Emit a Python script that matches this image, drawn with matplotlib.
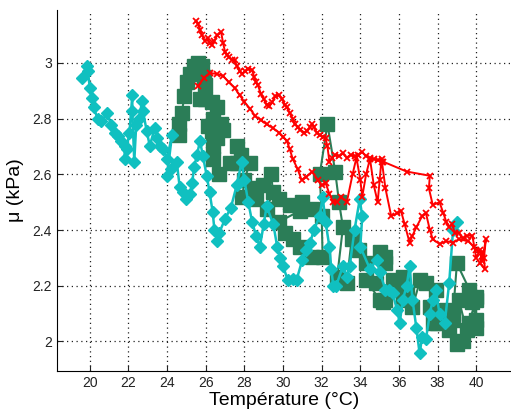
import matplotlib
matplotlib.use('Agg')
import matplotlib.pyplot as plt
import numpy as np

plt.rcParams['font.family'] = ['Liberation Sans', 'DejaVu Sans']

# red curve: upper branch then lower branch back
red_x = [25.5, 25.6, 25.7, 25.8, 25.95, 26.1, 26.2, 26.3, 26.45, 26.6, 26.8, 26.9, 27.0, 27.1, 27.2,
         27.35, 27.5, 27.6, 27.75, 27.9, 28.05, 28.2, 28.4, 28.5, 28.6, 28.7, 28.85, 29.0, 29.15, 29.3,
         29.45, 29.6, 29.8, 29.95, 30.1, 30.2, 30.35, 30.5, 30.6, 30.75, 30.9, 31.1, 31.25, 31.4, 31.5,
         31.6, 31.75, 31.9, 32.05, 32.2, 32.3, 32.4, 32.55, 32.7, 32.9, 33.1, 33.3, 33.5, 33.7, 33.9,
         34.1, 34.3, 34.5, 34.7, 34.9, 35.1, 35.2, 36.4, 37.6, 37.55, 37.75, 38.1, 38.3, 38.45, 38.6,
         38.75, 38.9, 39.1, 39.3, 39.5, 39.8, 39.9, 40.0, 40.2, 40.3, 40.5, 40.4, 40.45, 40.2, 40.3,
         40.0, 39.6, 39.1, 38.8, 38.45, 38.1, 37.75, 37.6, 37.4, 37.2, 36.9, 36.7, 36.55, 36.3, 36.1,
         35.9, 35.6, 35.3, 35.1, 35.0, 34.9, 34.7, 34.5, 34.3, 34.1, 34.0, 33.8, 33.6, 33.3, 33.0,
         32.8, 32.6, 32.4, 32.2, 32.0, 31.8, 31.5, 31.2, 30.96, 30.75, 30.5, 30.35, 30.2, 30.0, 29.8,
         29.5, 29.15, 28.85, 28.55, 28.3, 28.0, 27.75, 27.5, 27.2, 26.9, 26.6, 26.2, 25.9, 25.6]
red_y = [3.15, 3.14, 3.12, 3.10, 3.08, 3.09, 3.07, 3.065, 3.08, 3.10, 3.11, 3.07, 3.04, 3.03, 3.02,
         3.01, 3.01, 2.99, 2.97, 2.96, 2.97, 2.98, 2.975, 2.95, 2.93, 2.92, 2.89, 2.87, 2.85, 2.845,
         2.86, 2.88, 2.885, 2.87, 2.85, 2.84, 2.82, 2.80, 2.78, 2.77, 2.76, 2.75, 2.755, 2.77, 2.78,
         2.77, 2.75, 2.74, 2.735, 2.73, 2.70, 2.645, 2.66, 2.67, 2.665, 2.675, 2.66, 2.67, 2.665, 2.67,
         2.68, 2.665, 2.66, 2.655, 2.65, 2.645, 2.645, 2.61, 2.595, 2.55, 2.49, 2.50, 2.46, 2.43, 2.41,
         2.42, 2.39, 2.39, 2.37, 2.38, 2.38, 2.34, 2.30, 2.33, 2.29, 2.367, 2.30, 2.26, 2.28, 2.32,
         2.33, 2.36, 2.367, 2.355, 2.36, 2.35, 2.367, 2.40, 2.46, 2.45, 2.41, 2.38, 2.355, 2.42, 2.47,
         2.46, 2.45, 2.55, 2.656, 2.58, 2.50, 2.56, 2.656, 2.60, 2.52, 2.58, 2.66, 2.60, 2.50, 2.52,
         2.50, 2.50, 2.53, 2.57, 2.56, 2.58, 2.61, 2.59, 2.58, 2.62, 2.656, 2.69, 2.72, 2.735, 2.75,
         2.765, 2.78, 2.795, 2.81, 2.835, 2.86, 2.885, 2.91, 2.93, 2.953, 2.96, 2.964, 2.945, 2.917]

# green squares
green_x = [24.6, 24.6, 24.75, 24.9, 25.05, 25.2, 25.4, 25.6, 25.8, 25.9, 25.95, 25.7, 25.95, 26.3,
           26.6, 26.4, 26.1, 26.3, 26.8, 26.9, 26.6, 26.35, 26.35, 26.7, 27.25, 27.6, 27.6, 27.85,
           28.28, 28.0, 27.9, 28.43, 28.6, 28.95, 29.4, 29.47, 29.15, 29.8, 30.35, 31.0, 31.5, 30.9,
           29.8, 30.1, 30.5, 30.86, 31.5, 32.05, 32.0, 31.9, 32.3, 32.7, 32.9, 33.1, 32.8, 33.3,
           33.55, 33.95, 34.3, 35.0, 35.26, 35.3, 34.8, 34.3, 35.0, 35.26, 35.67, 35.9, 35.2, 36.2,
           36.2, 36.4, 36.7, 37.1, 37.4, 37.9, 37.75, 37.6, 37.95, 38.45, 38.6, 38.8, 39.0, 39.3,
           39.5, 39.1, 38.8, 39.0, 39.65, 40.0, 39.8, 40.0, 39.65, 40.0, 40.0]
green_y = [2.74, 2.78, 2.82, 2.88, 2.93, 2.96, 2.99, 3.0, 2.99, 2.95, 2.92, 2.87, 2.87, 2.86,
           2.84, 2.80, 2.775, 2.755, 2.78, 2.76, 2.73, 2.70, 2.656, 2.60, 2.64, 2.64, 2.70, 2.67,
           2.64, 2.58, 2.52, 2.55, 2.51, 2.56, 2.60, 2.535, 2.475, 2.51, 2.49, 2.50, 2.475, 2.47,
           2.43, 2.39, 2.367, 2.34, 2.305, 2.305, 2.45, 2.60, 2.78, 2.61, 2.50, 2.41, 2.23, 2.21,
           2.367, 2.33, 2.283, 2.32, 2.305, 2.283, 2.21, 2.22, 2.15, 2.15, 2.22, 2.197, 2.14, 2.23,
           2.15, 2.175, 2.124, 2.22, 2.21, 2.186, 2.066, 2.124, 2.066, 2.113, 2.04, 2.077, 1.99, 2.0,
           2.04, 2.15, 2.10, 2.28, 2.186, 2.15, 2.14, 2.077, 2.066, 2.16, 2.05]

# cyan diamonds
cyan_x = [19.6, 19.85, 19.9, 20.0, 20.1, 20.2, 20.4, 20.6, 20.9, 21.1, 21.3, 21.45, 21.6, 21.8, 21.8,
          21.9, 22.05, 22.2, 22.2, 22.3, 22.4, 22.55, 22.7, 22.75, 22.95, 23.1, 23.36, 23.5, 23.65, 23.8,
          24.0, 24.25, 24.0, 24.2, 24.5, 24.65, 24.8, 25.0, 25.2, 25.3, 25.4, 25.55, 25.7, 25.85, 26.05,
          26.2, 26.36, 26.45, 26.6, 26.7, 27.0, 27.3, 27.6, 27.86, 28.0, 28.2, 28.4, 28.6, 28.8, 29.0,
          29.15, 29.5, 29.7, 29.85, 30.0, 30.25, 30.5, 30.7, 31.0, 31.2, 31.4, 31.6, 31.9, 32.05, 32.2,
          32.4, 32.5, 32.6, 32.75, 33.1, 33.3, 33.45, 33.7, 33.97, 34.1, 34.0, 34.5, 34.85, 35.0, 35.3,
          35.5, 35.67, 35.9, 36.04, 36.2, 36.4, 36.55, 36.7, 36.9, 37.07, 37.2, 37.4, 37.6, 37.75, 37.9,
          38.1, 38.37, 38.6, 38.8, 38.98]
cyan_y = [2.946, 2.99, 2.97, 2.91, 2.873, 2.84, 2.80, 2.79, 2.82, 2.776, 2.75, 2.736, 2.72, 2.703, 2.656,
          2.69, 2.75, 2.884, 2.826, 2.645, 2.776, 2.80, 2.862, 2.826, 2.754, 2.703, 2.765, 2.73, 2.70, 2.69,
          2.656, 2.74, 2.595, 2.62, 2.645, 2.555, 2.535, 2.51, 2.53, 2.57, 2.627, 2.67, 2.72, 2.667, 2.595,
          2.535, 2.464, 2.40, 2.36, 2.39, 2.44, 2.48, 2.56, 2.645, 2.58, 2.50, 2.43, 2.38, 2.34, 2.42,
          2.486, 2.42, 2.34, 2.30, 2.27, 2.22, 2.225, 2.22, 2.294, 2.33, 2.355, 2.40, 2.45, 2.52, 2.43,
          2.34, 2.26, 2.20, 2.20, 2.27, 2.23, 2.27, 2.40, 2.51, 2.45, 2.34, 2.26, 2.294, 2.25, 2.186,
          2.186, 2.175, 2.113, 2.066, 2.15, 2.20, 2.27, 2.15, 2.05, 1.957, 2.016, 2.01, 2.10, 2.15, 2.186,
          2.10, 2.066, 2.21, 2.40, 2.43]

x_ticks = [20, 22, 24, 26, 28, 30, 32, 34, 36, 38, 40]
y_ticks = [2.0, 2.2, 2.4, 2.6, 2.8, 3.0]

fig = plt.figure(figsize=(5.11, 4.17), dpi=100)
ax = fig.add_axes([0.1115, 0.111, 0.8885, 0.865])

ax.plot(green_x, green_y, '-s', color='#2B7D57', lw=1.5, ms=10, mec='#2B7D57', mfc='#2B7D57')
ax.plot(cyan_x, cyan_y, '-D', color='#10C0C0', lw=1.8, ms=6, mec='#10C0C0', mfc='#10C0C0')
ax.plot(red_x, red_y, '-x', color='#FF0000', lw=1.4, ms=4.5, mew=1.3)

ax.set_xlim(18.3, 41.8)
ax.set_ylim(1.895, 3.19)
ax.set_xticks(x_ticks)
ax.set_xticklabels([str(v) for v in x_ticks])
ax.set_yticks(y_ticks)
ax.set_yticklabels(['2', '2.2', '2.4', '2.6', '2.8', '3'])
ax.tick_params(direction='in', length=4, labelsize=10, colors='#222222')
ax.grid(True, linestyle=(0, (1, 2.8)), color='#222222', lw=0.9)
ax.spines['top'].set_visible(False)
ax.spines['right'].set_visible(False)

ax.set_xlabel('Température (°C)', fontsize=14, labelpad=2)
ax.set_ylabel('μ (kPa)', fontsize=14, labelpad=6)

fig.savefig('out.png', dpi=100)
